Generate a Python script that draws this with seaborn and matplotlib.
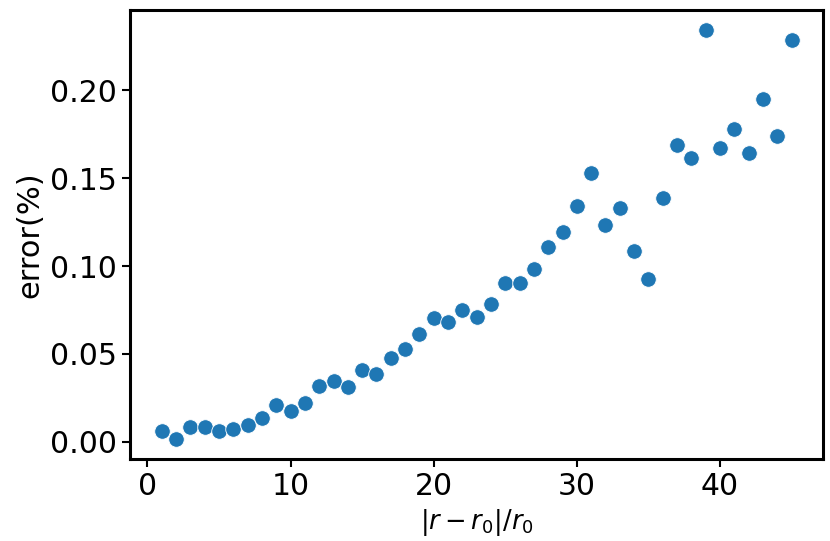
import matplotlib
matplotlib.use("Agg")
import matplotlib.pyplot as plt
import seaborn as sns
import pandas as pd



# Values
ratio = list(range(1, 46))
error = [
    0.0061, 0.0018, 0.0084, 0.0084, 0.0061, 0.0075, 0.0098, 0.0135, 0.0211, 0.0175,
    0.0218, 0.0316, 0.0343, 0.0311, 0.0411, 0.0387, 0.0475, 0.0526, 0.0611, 0.0704,
    0.0679, 0.0747, 0.0710, 0.0784, 0.0903, 0.0906, 0.0984, 0.1107, 0.1195, 0.1343,
    0.1528, 0.1233, 0.1331, 0.1086, 0.0929, 0.1386, 0.1691, 0.1615, 0.2341, 0.1672,
    0.1779, 0.1643, 0.1952, 0.1742, 0.2286,
]

df = pd.DataFrame({"ratio": ratio, "error": error})



# Plot
sns.set_style("ticks")
plt.rcParams["text.color"] = "black"
plt.rcParams["axes.labelcolor"] = "black"
plt.rcParams["xtick.color"] = "black"
plt.rcParams["ytick.color"] = "black"

fig, ax = plt.subplots(figsize=(8.3, 5.41), dpi=100)
fig.subplots_adjust(left=0.157, right=0.9916, top=0.9815, bottom=0.1516)

sns.scatterplot(
    data=df,
    x="ratio",
    y="error",
    s=125,
    color="#1f77b4",
    edgecolor="white",
    linewidth=0.6,
    ax=ax
)

ax.set_xlabel(r"$|r-r_0|/r_0$", fontsize=18.5, labelpad=4)
ax.set_ylabel("error(%)", fontsize=22)
ax.set_yticks([0.0, 0.05, 0.10, 0.15, 0.20])
ax.tick_params(labelsize=21.5, width=1.5, length=6, color="black", labelcolor="black")

for spine in ax.spines.values():
    spine.set_linewidth(2.2)
    spine.set_color("black")

fig.savefig("out.png", dpi=100)
